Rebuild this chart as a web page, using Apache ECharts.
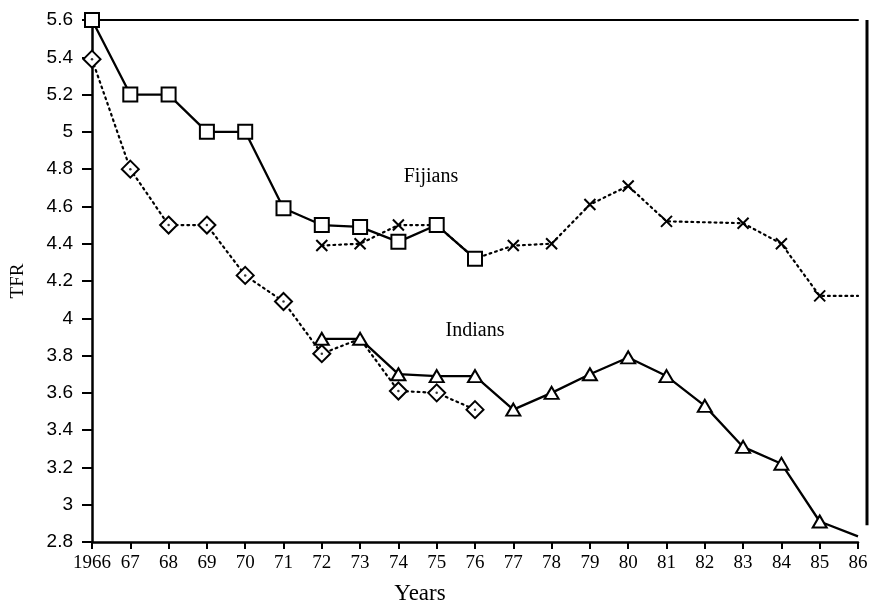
<!DOCTYPE html>
<html>
<head>
<meta charset="utf-8">
<script src="https://cdn.jsdelivr.net/npm/echarts@6/dist/echarts.min.js"></script>
<style>
html,body{margin:0;padding:0;background:#fff;}
#chart{width:877px;height:610px;}
</style>
</head>
<body>
<div id="chart"></div>
<script>
// ---- data ----
const years = [1966,1967,1968,1969,1970,1971,1972,1973,1974,1975,1976,1977,1978,1979,1980,1981,1982,1983,1984,1985,1986];
const yTicks = [2.8,3,3.2,3.4,3.6,3.8,4,4.2,4.4,4.6,4.8,5,5.2,5.4,5.6];
const fijiansSolid  = [5.6,5.2,5.2,5.0,5.0,4.59,4.5,4.49,4.41,4.5,4.32,null,null,null,null,null,null,null,null,null,null];
const fijiansDotted = [null,null,null,null,null,null,4.39,4.4,4.5,4.5,4.32,4.39,4.4,4.61,4.71,4.52,null,4.51,4.4,4.12,4.12];
const indiansDotted = [5.39,4.8,4.5,4.5,4.23,4.09,3.81,3.89,3.61,3.6,3.51,null,null,null,null,null,null,null,null,null,null];
const indiansSolid  = [null,null,null,null,null,null,3.89,3.89,3.7,3.69,3.69,3.51,3.6,3.7,3.79,3.69,3.53,3.31,3.22,2.91,2.83];
const groupLabels = [
  {text:'Fijians', year:1974.85, value:4.76},
  {text:'Indians', year:1976.0, value:3.935}
];

(function(){
// ---- build ----
const lastYear = years[years.length-1];
function build(values, other){
  const out = [];
  values.forEach((v,i)=>{
    if (v === null) return;
    const shared = other && other[i] !== null && Math.abs(other[i]-v) < 1e-9;
    const item = {value:[years[i], v]};
    if (shared || years[i] === lastYear) item.symbol = 'none';
    out.push(item);
  });
  return out;
}
const fsData = build(fijiansSolid, null);
const fdData = build(fijiansDotted, fijiansSolid);
const idData = build(indiansDotted, indiansSolid);
const isData = build(indiansSolid, null);
const idDots = idData.filter(d => d.symbol !== 'none').map(d => d.value);

const serif = 'Liberation Serif';
const sans = 'Liberation Sans';
const chart = echarts.init(document.getElementById('chart'));
const dotted = {color:'#000', width:2.2, type:[1.8,4], cap:'round'};
const solid = {color:'#000', width:2.3};
const mk = {color:'#000', borderColor:'#000', borderWidth:1.7};

chart.setOption({
  animation:false,
  backgroundColor:'#fff',
  grid:{left:92, right:19, top:20, bottom:64},
  xAxis:[{
    type:'value', min:years[0], max:lastYear, interval:1,
    name:'Years', nameLocation:'middle', nameGap:40,
    nameTextStyle:{fontFamily:serif, fontSize:23, color:'#000', padding:[0,110,0,0]},
    axisLine:{lineStyle:{color:'#000', width:2.5}},
    axisTick:{show:true, length:7, lineStyle:{color:'#000', width:2}},
    axisLabel:{margin:12, fontFamily:serif, fontSize:19, color:'#000',
      formatter:v => v === years[0] ? String(v) : String(v % 100).padStart(2,'0')},
    splitLine:{show:false}
  },{
    type:'value', position:'top', min:years[0], max:lastYear,
    axisLine:{show:true, lineStyle:{color:'#000', width:2}},
    axisTick:{show:false}, axisLabel:{show:false}, splitLine:{show:false}
  }],
  yAxis:{
    type:'value', min:yTicks[0], max:yTicks[yTicks.length-1], interval:0.2,
    name:'TFR', nameLocation:'middle', nameGap:64,
    nameTextStyle:{fontFamily:serif, fontSize:19, color:'#000'},
    axisLine:{show:true, lineStyle:{color:'#000', width:2.5}},
    axisTick:{show:true, length:10, lineStyle:{color:'#000', width:2}},
    axisLabel:{margin:19, fontFamily:sans, fontSize:19, color:'#000',
      formatter:v => String(Math.round(v*10)/10)},
    splitLine:{show:false}
  },
  series:[
    {name:'Fijians dotted', type:'line', data:fdData, lineStyle:dotted,
     symbol:'path://M0,0L10,10M10,0L0,10', symbolSize:11,
     itemStyle:{color:'#000', borderColor:'#000', borderWidth:2}, z:2},
    {name:'Indians dotted', type:'line', data:idData, lineStyle:dotted,
     symbol:'emptyDiamond', symbolSize:17, itemStyle:mk, z:2},
    {name:'Indians dots', type:'scatter', data:idDots, symbol:'circle', symbolSize:2.5,
     itemStyle:{color:'#000'}, z:4},
    {name:'Fijians solid', type:'line', data:fsData, lineStyle:solid,
     symbol:'emptyRect', symbolSize:14, itemStyle:mk, z:3},
    {name:'Indians solid', type:'line', data:isData, lineStyle:solid,
     symbol:'emptyTriangle', symbolSize:[14,12], itemStyle:mk, z:3}
  ]
});

const g = groupLabels.map(l => {
  const p = chart.convertToPixel({gridIndex:0}, [l.year, l.value]);
  return {type:'text', x:p[0], y:p[1], z:10,
    style:{text:l.text, fontFamily:serif, fontSize:20, fill:'#000', align:'center', verticalAlign:'middle'}};
});
const pTop = chart.convertToPixel({gridIndex:0}, [lastYear, yTicks[yTicks.length-1]]);
const pBot = chart.convertToPixel({gridIndex:0}, [lastYear, 2.89]);
g.push({type:'line', z:10, shape:{x1:pTop[0]+9, y1:pTop[1], x2:pTop[0]+9, y2:pBot[1]},
  style:{stroke:'#000', lineWidth:3}});
chart.setOption({graphic:g});
})();
</script>
</body>
</html>
